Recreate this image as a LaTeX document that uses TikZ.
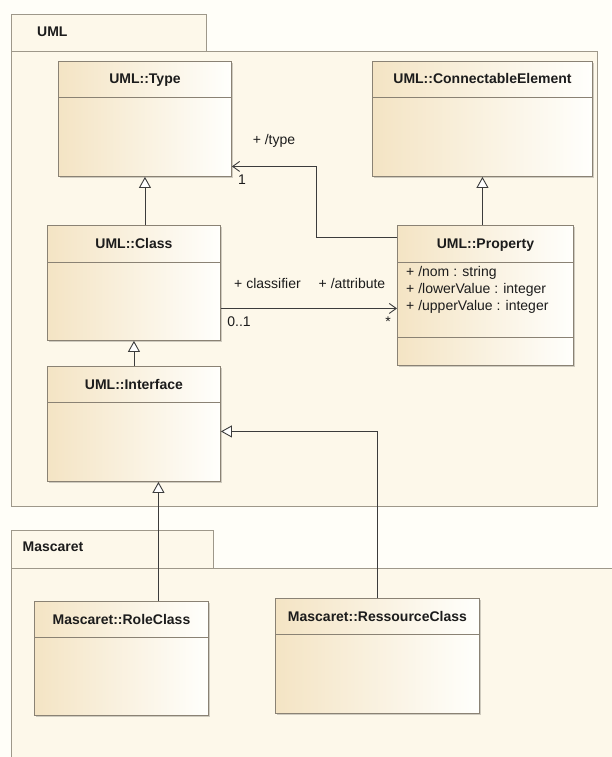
\documentclass[tikz,border=0pt]{standalone}
\usepackage{fontspec}
\setmainfont{Liberation Sans}
\usetikzlibrary{arrows.meta,shadows,calc}

\definecolor{pagebg}{RGB}{255,254,248}
\definecolor{pkgfill}{RGB}{253,248,234}
\definecolor{pkgline}{RGB}{158,152,138}
\definecolor{boxleft}{RGB}{244,228,196}
\definecolor{boxright}{RGB}{255,255,252}
\definecolor{boxline}{RGB}{138,130,116}
\definecolor{wire}{RGB}{60,60,60}
\definecolor{ink}{RGB}{28,28,28}

\tikzset{
  pkgbox/.style={draw=pkgline, fill=pkgfill, line width=0.9pt, inner sep=0pt, anchor=north west},
  pkglabel/.style={font=\fontsize{14}{17}\selectfont\bfseries, text=ink, inner sep=0pt, anchor=west},
  classbox/.style={draw=boxline, line width=0.9pt, left color=boxleft, right color=boxright,
    inner sep=0pt, anchor=north west,
    drop shadow={shadow xshift=1.5pt, shadow yshift=-1.5pt, fill=black, opacity=0.18}},
  classtitle/.style={font=\fontsize{14}{17}\selectfont\bfseries, text=ink, inner sep=0pt,
    text height=10pt, text depth=0pt},
  sepline/.style={draw=boxline, line width=0.9pt},
  attrs/.style={font=\fontsize{14}{17}\selectfont, text=ink, inner sep=0pt, align=left, anchor=west},
  rolelabel/.style={font=\fontsize{14}{17}\selectfont, text=ink, inner sep=0pt},
  gen/.style={draw=wire, line width=0.9pt, -{Triangle[open, length=11pt, width=12pt, fill=white]}},
  assoc/.style={draw=wire, line width=0.9pt, -{Straight Barb[length=7pt, width=10pt]}},
}

% class box: name, x, y, width, height, header height, title
\newcommand\umlclass[7]{%
  \node[classbox, minimum width=#4pt, minimum height=#5pt] (#1) at (#2,#3) {};
  \draw[sepline] ([yshift=-#6pt]#1.north west) -- ([yshift=-#6pt]#1.north east);
  \node[classtitle] (#1-title) at ([yshift=-#6pt/2]#1.north) {#7};
}

\begin{document}
\begin{tikzpicture}[x=1pt, y=-1pt]
  \useasboundingbox (0,0) rectangle (611,757);
  \fill[pagebg] (0,0) rectangle (611,757);

  % package UML
  \node[pkgbox, minimum width=195pt, minimum height=37pt] (umlTab) at (11,14) {};
  \node[pkgbox, minimum width=586pt, minimum height=455pt] (umlPkg) at (11,51) {};
  \node[pkglabel] (umlName) at (37,32) {UML};

  % package Mascaret (runs past the page edge)
  \node[pkgbox, minimum width=202pt, minimum height=38pt] (mascTab) at (11,530) {};
  \fill[pkgfill] (11,568) rectangle (615,760);
  \coordinate (mascTL) at (11,568);
  \draw[pkgline, line width=0.9pt] (mascTL) -- (mascTL -| 615,0);
  \draw[pkgline, line width=0.9pt] (mascTL) -- (mascTL |- 0,760);
  \node[pkglabel] (mascName) at (22.5,547) {Mascaret};

  % classes
  \umlclass{type}{58}{61}{173}{115}{36}{UML::Type}
  \umlclass{conn}{372}{61}{220}{115}{36}{UML::ConnectableElement}
  \umlclass{class}{47}{225}{173}{115}{37}{UML::Class}
  \umlclass{prop}{397}{225}{176}{140}{37}{UML::Property}
  \draw[sepline] ([yshift=-112pt]prop.north west) -- ([yshift=-112pt]prop.north east);
  \node[attrs] (propAttrs) at (406,290) {+ /nom : string\\+ /lowerValue : integer\\+ /upperValue : integer};
  \umlclass{iface}{47}{366}{173}{115}{36}{UML::Interface}
  \umlclass{role}{34}{601}{174}{114}{36}{Mascaret::RoleClass}
  \umlclass{res}{275}{598}{204}{115}{36}{Mascaret::RessourceClass}

  % generalizations
  \draw[gen] (class.north -| type.south) -- (type.south);
  \draw[gen] (prop.north -| conn.south) -- (conn.south);
  \draw[gen] (iface.north) -- (class.south);
  \draw[gen] ([xshift=37pt]role.north) -- ([xshift=37pt]role.north |- iface.south);
  \draw[gen] (res.north) |- ([yshift=-7.5pt]iface.east);

  % associations
  \coordinate (typeEnd) at ([yshift=-47.5pt]type.east);
  \draw[assoc] ([yshift=-12pt]prop.north west) -| ([xshift=85pt]typeEnd) -- (typeEnd);
  \coordinate (classStart) at ([yshift=-25.5pt]class.east);
  \draw[assoc] (classStart) -- (classStart -| prop.west);

  % association end labels
  \node[rolelabel] (lblType) at (274,141) {+ /type};
  \node[rolelabel] (lblOne) at (242,180) {1};
  \node[rolelabel] (lblClassifier) at (267.5,283) {+ classifier};
  \node[rolelabel] (lblAttribute) at (352,283) {+ /attribute};
  \node[rolelabel] (lblZeroOne) at (239,322) {0..1};
  \node[rolelabel] (lblMany) at (388,322) {*};
\end{tikzpicture}
\end{document}
